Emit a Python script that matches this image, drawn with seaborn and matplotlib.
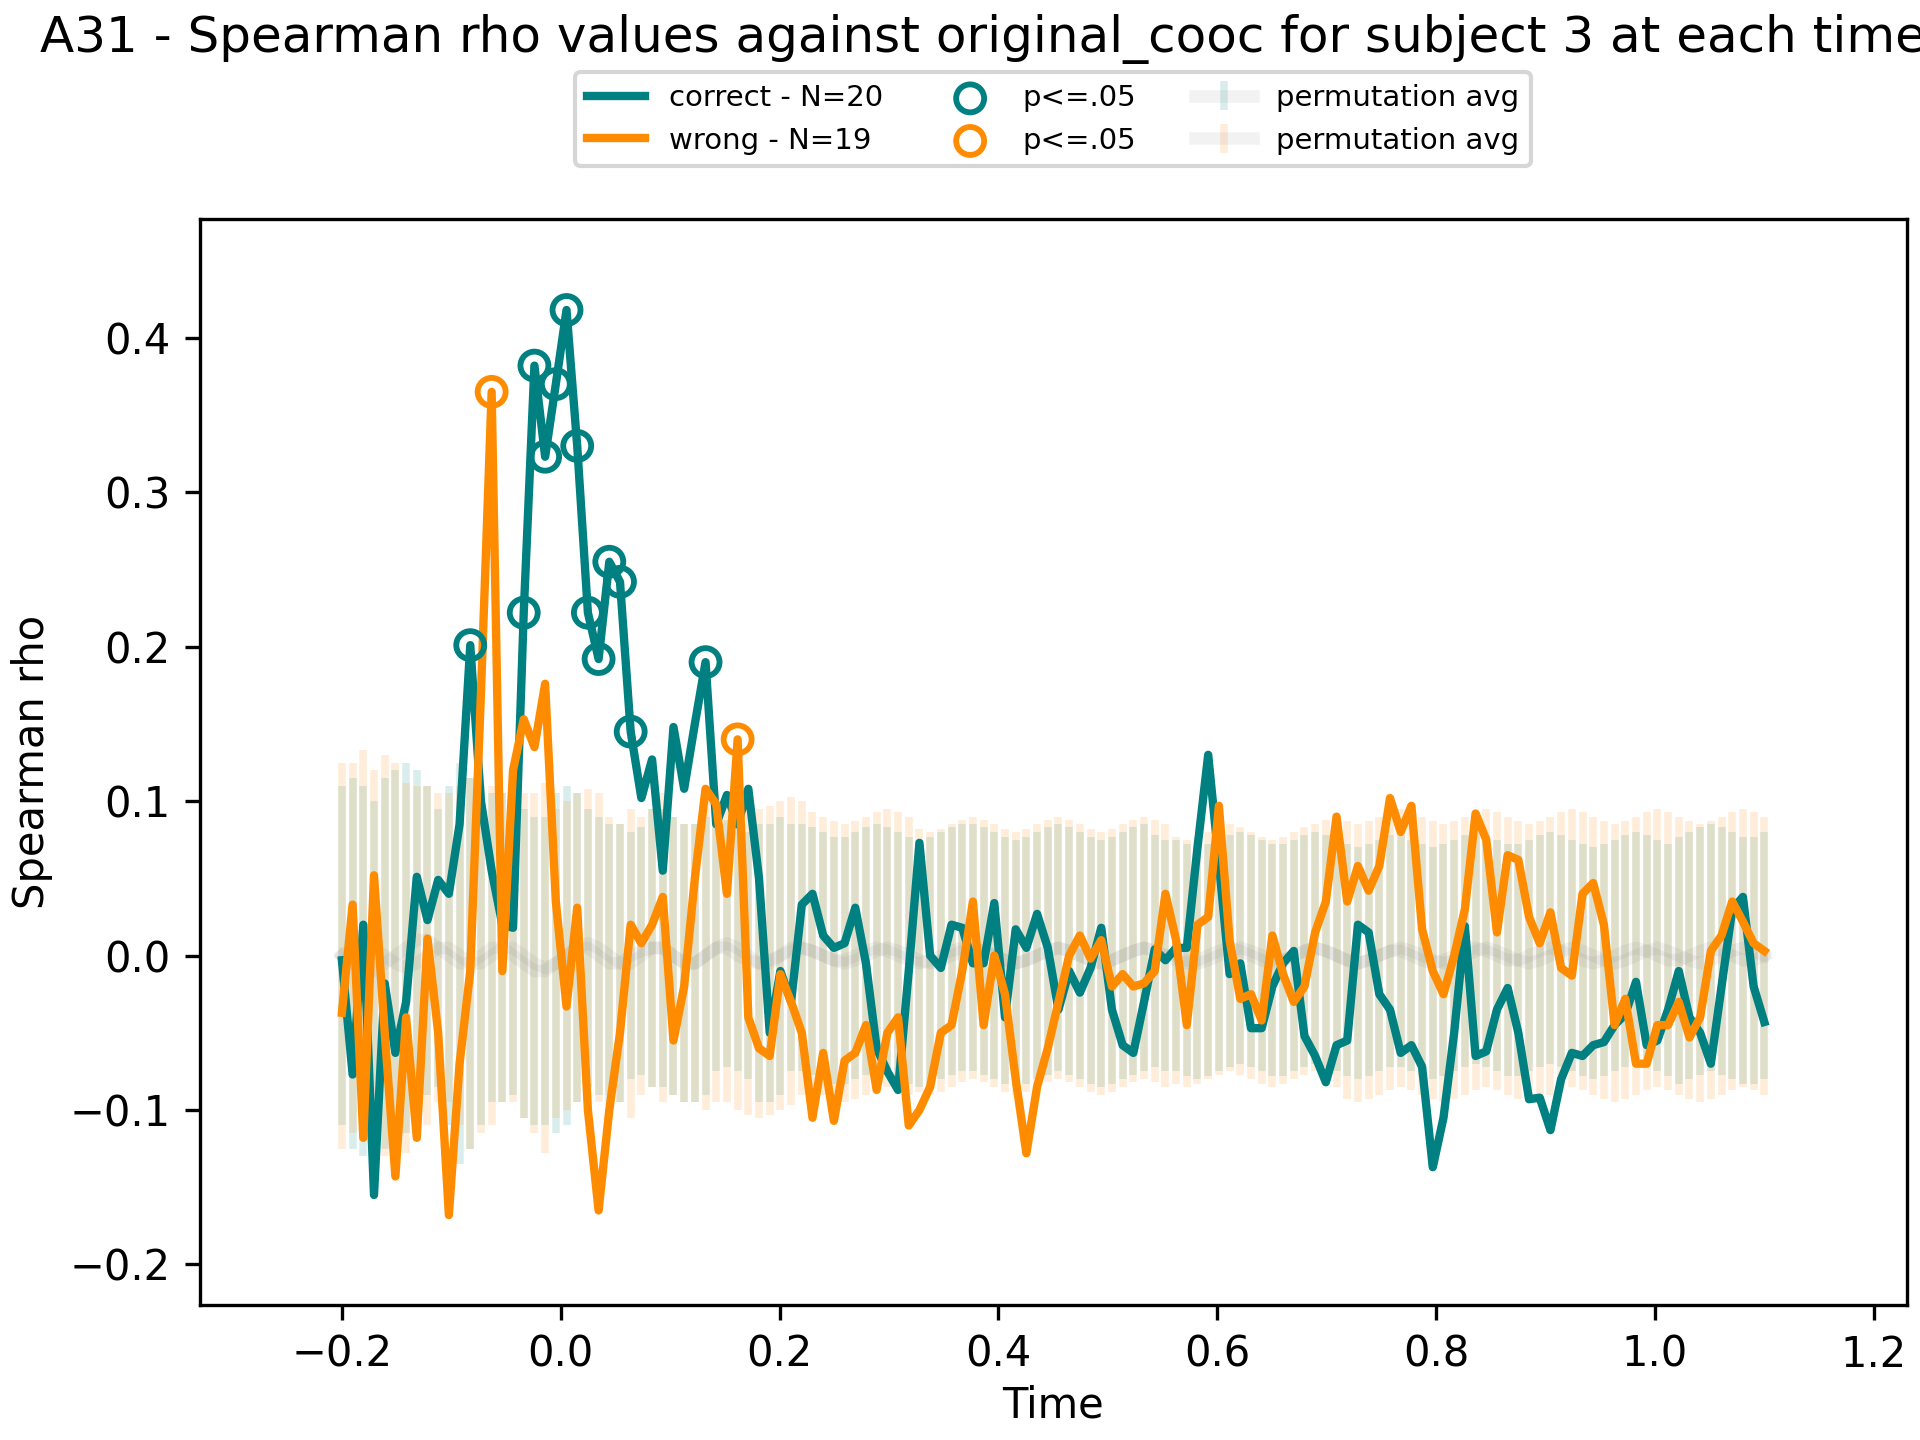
import numpy as np
import pandas as pd
import seaborn as sns
import matplotlib.pyplot as plt

# Spearman rho per timepoint
correct_rho = [
    -0.003, -0.077, 0.02, -0.155, -0.018, -0.063, -0.03, 0.051, 0.023, 0.049,
    0.04, 0.085, 0.201, 0.10, 0.055, 0.02, 0.018, 0.222, 0.382, 0.323,
    0.37, 0.418, 0.33, 0.222, 0.192, 0.255, 0.242, 0.145, 0.102, 0.127,
    0.055, 0.148, 0.108, 0.15, 0.19, 0.085, 0.104, 0.085, 0.108, 0.05,
    -0.05, -0.01, -0.03, 0.033, 0.04, 0.013, 0.005, 0.008, 0.031, -0.005,
    -0.06, -0.075, -0.087, -0.01, 0.073, 0.0, -0.008, 0.02, 0.018, -0.005,
    -0.005, 0.034, -0.04, 0.017, 0.005, 0.027, 0.005, -0.035, -0.01, -0.024,
    -0.008, 0.018, -0.035, -0.058, -0.063, -0.03, 0.004, -0.003, 0.005, 0.005,
    0.07, 0.13, 0.06, -0.012, -0.005, -0.047, -0.047, -0.02, -0.005, 0.003,
    -0.052, -0.065, -0.082, -0.058, -0.055, 0.02, 0.015, -0.025, -0.035, -0.063,
    -0.058, -0.072, -0.137, -0.105, -0.05, 0.019, -0.065, -0.062, -0.035, -0.021,
    -0.05, -0.093, -0.092, -0.113, -0.08, -0.063, -0.065, -0.058, -0.056, -0.045,
    -0.038, -0.017, -0.058, -0.055, -0.035, -0.01, -0.04, -0.05, -0.07, -0.02,
    0.03, 0.038, -0.02, -0.043,
]
wrong_rho = [
    -0.037, 0.033, -0.118, 0.052, -0.05, -0.143, -0.04, -0.118, 0.011, -0.05,
    -0.168, -0.07, -0.01, 0.17, 0.365, -0.01, 0.12, 0.153, 0.135, 0.176,
    0.035, -0.033, 0.031, -0.1, -0.165, -0.1, -0.05, 0.02, 0.008, 0.02,
    0.038, -0.055, -0.02, 0.05, 0.108, 0.098, 0.04, 0.14, -0.04, -0.06,
    -0.065, -0.012, -0.03, -0.05, -0.105, -0.063, -0.107, -0.068, -0.063, -0.045,
    -0.087, -0.05, -0.04, -0.11, -0.1, -0.085, -0.05, -0.045, -0.01, 0.035,
    -0.045, 0.0, -0.025, -0.08, -0.128, -0.085, -0.06, -0.03, 0.0, 0.013,
    -0.002, 0.01, -0.02, -0.012, -0.02, -0.018, -0.01, 0.04, 0.01, -0.045,
    0.02, 0.025, 0.097, 0.01, -0.028, -0.025, -0.042, 0.013, -0.012, -0.03,
    -0.02, 0.015, 0.035, 0.09, 0.035, 0.058, 0.042, 0.058, 0.102, 0.08,
    0.097, 0.017, -0.01, -0.025, 0.0, 0.03, 0.092, 0.075, 0.015, 0.065,
    0.062, 0.025, 0.008, 0.028, -0.008, -0.013, 0.04, 0.047, 0.02, -0.045,
    -0.028, -0.07, -0.07, -0.045, -0.045, -0.03, -0.053, -0.04, 0.003, 0.013,
    0.035, 0.022, 0.008, 0.003,
]
correct_sig = [12, 17, 18, 19, 20, 21, 22, 23, 24, 25, 26, 27, 34]
wrong_sig = [14, 37]

# permutation averages and their spread
correct_perm = [
    0.0, -0.005, -0.01, -0.01, -0.005, 0.0, 0.005, 0.01, 0.01, 0.005,
    0.0, -0.005, -0.005, 0.0, 0.005, 0.005, 0.0, -0.005, -0.01, -0.01,
    -0.005, 0.0, 0.005, 0.005, 0.0, -0.005, -0.005, 0.0, 0.003, 0.005,
    0.005, 0.0, -0.005, -0.005, 0.0, 0.005, 0.008, 0.005, 0.0, -0.005,
    -0.005, 0.0, 0.005, 0.005, 0.003, 0.0, -0.003, -0.003, 0.0, 0.003,
    0.005, 0.003, 0.0, -0.003, -0.005, -0.003, 0.0, 0.003, 0.005, 0.005,
    0.003, 0.0, -0.003, -0.005, -0.003, 0.0, 0.003, 0.005, 0.003, 0.0,
    -0.003, -0.005, -0.003, 0.0, 0.003, 0.005, 0.003, 0.0, 0.0, -0.003,
    -0.005, -0.003, 0.0, 0.003, 0.005, 0.003, 0.0, -0.003, -0.003, 0.0,
    0.003, 0.005, 0.003, 0.0, -0.003, -0.005, -0.003, 0.0, 0.003, 0.003,
    0.0, -0.003, -0.005, -0.003, 0.0, 0.003, 0.005, 0.003, 0.0, -0.003,
    -0.003, 0.0, 0.003, 0.005, 0.003, 0.0, -0.003, -0.005, -0.003, 0.0,
    0.003, 0.005, 0.003, 0.0, -0.003, -0.003, 0.0, 0.003, 0.005, 0.003,
    0.0, -0.003, -0.003, 0.0,
]
correct_err = [
    0.11, 0.12, 0.12, 0.11, 0.12, 0.12, 0.12, 0.11, 0.10, 0.09,
    0.11, 0.13, 0.12, 0.11, 0.10, 0.10, 0.09, 0.10, 0.10, 0.10,
    0.11, 0.11, 0.10, 0.09, 0.09, 0.09, 0.09, 0.08, 0.08, 0.09,
    0.09, 0.09, 0.09, 0.09, 0.09, 0.08, 0.08, 0.08, 0.08, 0.09,
    0.09, 0.09, 0.08, 0.08, 0.08, 0.08, 0.08, 0.08, 0.08, 0.08,
    0.08, 0.08, 0.08, 0.08, 0.08, 0.08, 0.08, 0.08, 0.08, 0.08,
    0.08, 0.08, 0.08, 0.08, 0.08, 0.08, 0.08, 0.08, 0.08, 0.08,
    0.08, 0.08, 0.08, 0.08, 0.08, 0.08, 0.075, 0.075, 0.075, 0.075,
    0.075, 0.075, 0.075, 0.075, 0.075, 0.075, 0.075, 0.075, 0.075, 0.075,
    0.075, 0.075, 0.075, 0.075, 0.075, 0.075, 0.075, 0.075, 0.075, 0.075,
    0.075, 0.075, 0.075, 0.075, 0.075, 0.075, 0.075, 0.075, 0.075, 0.075,
    0.075, 0.075, 0.075, 0.075, 0.075, 0.075, 0.075, 0.075, 0.075, 0.075,
    0.075, 0.075, 0.075, 0.075, 0.075, 0.08, 0.08, 0.08, 0.08, 0.08,
    0.08, 0.08, 0.08, 0.08,
]
wrong_perm = [
    0.0, 0.005, 0.008, 0.005, 0.0, -0.005, -0.008, -0.005, 0.0, 0.005,
    0.005, 0.0, -0.005, -0.005, 0.0, 0.005, 0.005, 0.0, -0.005, -0.008,
    -0.005, 0.0, 0.005, 0.008, 0.005, 0.0, -0.005, -0.005, 0.0, 0.005,
    0.005, 0.0, -0.005, -0.005, 0.0, 0.005, 0.005, 0.0, -0.003, -0.005,
    -0.003, 0.0, 0.003, 0.005, 0.003, 0.0, -0.003, -0.005, -0.003, 0.0,
    0.003, 0.005, 0.003, 0.0, -0.003, -0.005, -0.003, 0.0, 0.003, 0.005,
    0.003, 0.0, -0.003, -0.005, -0.003, 0.0, 0.003, 0.005, 0.003, 0.0,
    -0.003, -0.005, -0.003, 0.0, 0.003, 0.005, 0.003, 0.0, -0.003, -0.005,
    -0.003, 0.0, 0.003, 0.005, 0.003, 0.0, -0.003, -0.005, -0.003, 0.0,
    0.003, 0.005, 0.003, 0.0, -0.003, -0.005, -0.003, 0.0, 0.003, 0.005,
    0.003, 0.0, -0.003, -0.005, -0.003, 0.0, 0.003, 0.005, 0.003, 0.0,
    -0.003, -0.005, -0.003, 0.0, 0.003, 0.005, 0.003, 0.0, -0.003, -0.005,
    -0.003, 0.0, 0.003, 0.005, 0.003, 0.0, -0.003, -0.005, -0.003, 0.0,
    0.003, 0.005, 0.003, 0.0,
]
wrong_err = [
    0.125, 0.12, 0.125, 0.115, 0.13, 0.13, 0.12, 0.115, 0.11, 0.10,
    0.10, 0.11, 0.12, 0.11, 0.11, 0.10, 0.10, 0.105, 0.11, 0.12,
    0.10, 0.10, 0.10, 0.10, 0.10, 0.09, 0.09, 0.10, 0.09, 0.09,
    0.10, 0.09, 0.09, 0.09, 0.10, 0.10, 0.10, 0.10, 0.10, 0.10,
    0.10, 0.10, 0.10, 0.095, 0.09, 0.09, 0.09, 0.09, 0.09, 0.09,
    0.09, 0.09, 0.09, 0.09, 0.085, 0.085, 0.085, 0.085, 0.085, 0.085,
    0.085, 0.085, 0.085, 0.085, 0.085, 0.085, 0.085, 0.085, 0.085, 0.085,
    0.085, 0.085, 0.085, 0.085, 0.085, 0.085, 0.085, 0.085, 0.08, 0.08,
    0.08, 0.08, 0.08, 0.08, 0.08, 0.08, 0.08, 0.08, 0.08, 0.08,
    0.08, 0.08, 0.085, 0.085, 0.09, 0.09, 0.09, 0.09, 0.09, 0.09,
    0.09, 0.09, 0.09, 0.09, 0.09, 0.09, 0.09, 0.09, 0.09, 0.09,
    0.09, 0.09, 0.09, 0.09, 0.09, 0.09, 0.09, 0.09, 0.09, 0.09,
    0.09, 0.09, 0.09, 0.09, 0.09, 0.09, 0.09, 0.09, 0.09, 0.09,
    0.09, 0.09, 0.09, 0.09,
]

TEAL = "#008080"
ORANGE = "#ff8c00"

times = np.linspace(-0.2, 1.1, len(correct_rho))
df = pd.DataFrame({"Time": times, "correct": correct_rho, "wrong": wrong_rho})

fig, ax = plt.subplots(figsize=(6.4, 4.8), dpi=300)
fig.subplots_adjust(left=0.104, right=0.993, top=0.848, bottom=0.094)

sns.lineplot(data=df, x="Time", y="correct", color=TEAL, lw=2, label="correct - N=20", ax=ax)
sns.lineplot(data=df, x="Time", y="wrong", color=ORANGE, lw=2, label="wrong - N=19", ax=ax)

ax.scatter(times[correct_sig], np.array(correct_rho)[correct_sig], s=45,
           facecolors="none", edgecolors=TEAL, lw=1.4, label="p<=.05", zorder=3)
ax.scatter(times[wrong_sig], np.array(wrong_rho)[wrong_sig], s=45,
           facecolors="none", edgecolors=ORANGE, lw=1.4, label="p<=.05", zorder=3)

ax.errorbar(times, correct_perm, yerr=correct_err, color=(0.5, 0.5, 0.5, 0.1), lw=3,
            ecolor=(0.0, 0.55, 0.55, 0.15), elinewidth=1.8, label="permutation avg", zorder=1)
ax.errorbar(times, wrong_perm, yerr=wrong_err, color=(0.5, 0.5, 0.5, 0.1), lw=3,
            ecolor=(1.0, 0.55, 0.0, 0.15), elinewidth=1.8, label="permutation avg", zorder=1)

ax.set_xlim(-0.33, 1.23)
ax.set_ylim(-0.226, 0.477)
ax.set_xlabel("Time", labelpad=2)
ax.set_ylabel("Spearman rho")
fig.text(0.021, 0.99, "A31 - Spearman rho values against original_cooc for subject 3 at each timepoint",
         ha="left", va="top", fontsize=12)
ax.legend(loc="lower center", bbox_to_anchor=(0.5, 1.035), ncol=3, fontsize=7)

fig.savefig("out.png", dpi=300)
